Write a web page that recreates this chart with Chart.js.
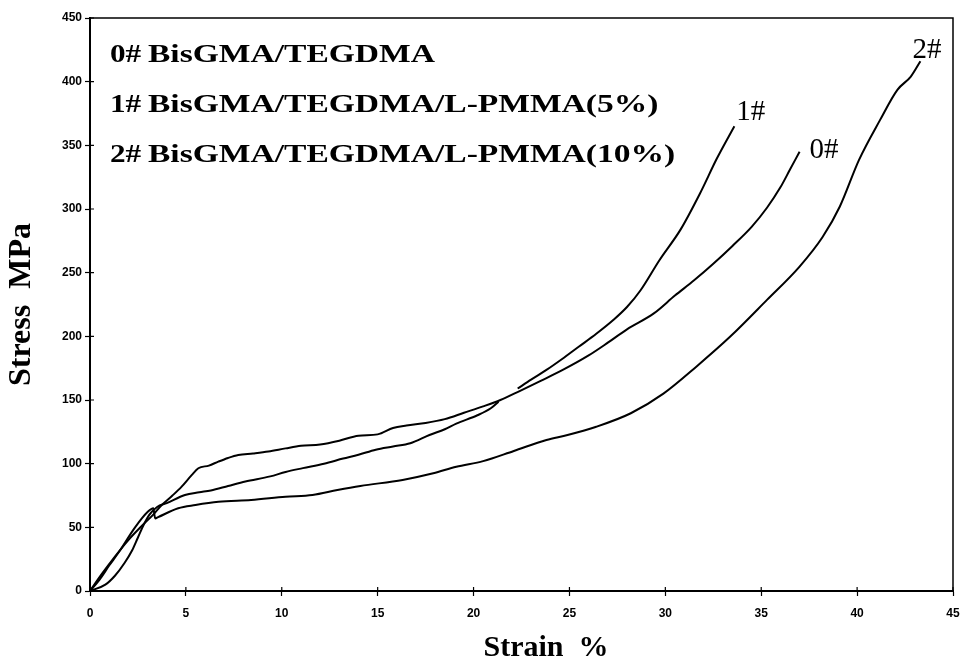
<!DOCTYPE html>
<html lang="en">
<head>
<meta charset="UTF-8">
<title>Stress - Strain</title>
<script src="https://cdn.jsdelivr.net/npm/chart.js"></script>
<style>
    html, body { margin: 0; padding: 0; background: #fff; }
    /* fixed size canvas box */
    .chart-container { position: relative; width: 966px; height: 664px; }
</style>
</head>
<body>
<div class="chart-container"><canvas id="stressChart" width="966" height="664"></canvas></div>
<script>
// 0# BisGMA/TEGDMA
const strain0 = [0, 0.6, 1.3, 2.0, 2.76, 3.3, 3.74, 4.3, 4.78, 5.3, 5.65, 6.2, 6.69, 7.2, 7.73, 8.5, 9.3, 10.2, 11.0, 12.0, 13.0, 14.0, 15.0, 15.8, 16.5, 17.5, 18.5, 19.5, 20.5, 21.4, 22.4, 23.5, 24.7, 26.0, 27.0, 28.0, 29.4, 30.5, 31.5, 32.5, 33.5, 34.5, 35.3, 36.0, 36.5, 37.0];
const stress0 = [0, 13, 27, 40, 52, 60, 67.5, 75, 82, 91, 96.4, 98.5, 101.6, 104.5, 106.8, 108, 109.5, 112, 114, 115, 118, 122, 123, 128, 130, 132, 135, 140, 145, 150, 157, 165, 174, 185, 195, 205.5, 218, 232, 244, 257, 271, 286, 301, 317, 331, 345];

// 1# BisGMA/TEGDMA/L-PMMA(5%)  (trace breaks near 22%)
const strain1 = [0, 0.8, 1.3, 1.8, 2.2, 2.5, 2.8, 3.1, 3.5, 4.0, 4.95, 5.7, 6.3, 7.2, 8.1, 9.4, 10.2, 11.1, 12.2, 13.2, 14.0, 14.9, 15.8, 16.7, 17.7, 18.5, 19.1, 20.2, 20.9, 21.3, 21.8, 22.3, 23.0, 23.8, 24.6, 25.5, 26.4, 27.3, 28.0, 28.7, 29.7, 30.8, 31.8, 32.7, 33.6];
const stress1 = [0, 5, 12, 22, 32, 42, 52, 60, 66, 69, 75.4, 77.5, 79, 82.5, 86, 90, 93.5, 96.5, 100, 104, 107, 111, 113.5, 116, 122.5, 127, 131.5, 138, 143.5, 148.7, null, 159, 166, 173.6, 182, 192, 202, 213, 223, 236, 260, 284, 312, 340, 365];

// 2# BisGMA/TEGDMA/L-PMMA(10%)
const strain2 = [0, 0.5, 1.0, 1.48, 2.35, 3.0, 3.3, 3.4, 3.55, 4.6, 5.5, 6.7, 8.4, 10.2, 11.6, 12.9, 14.1, 16.3, 17.9, 19.1, 20.5, 22.1, 23.8, 24.9, 26.4, 28.2, 29.9, 31.6, 33.4, 35.3, 37.0, 38.2, 39.1, 40.1, 41.2, 42.1, 42.8, 43.3];
const stress2 = [0, 9, 20, 30, 50, 62, 65, 57, 58, 65, 67.5, 70, 71.5, 74, 75.4, 79.3, 82.5, 87.2, 92.4, 97.6, 102, 110, 118.6, 122.5, 129, 139.6, 155, 176, 200, 228.6, 254.8, 278, 302, 338.6, 370, 393.6, 404, 416];

const seriesIds = ['0#', '1#', '2#'];
const seriesNames = ['BisGMA/TEGDMA', 'BisGMA/TEGDMA/L-PMMA(5%)', 'BisGMA/TEGDMA/L-PMMA(10%)'];
const xTitle = 'Strain  %';
const yTitle = 'Stress  MPa';

const serif = '"Liberation Serif", "Times New Roman", serif';
const tickFont = { family: '"Liberation Sans Narrow", "Liberation Sans", Arial, sans-serif', size: 12, weight: 'bold' };

function points(xs, ys) {
    return xs.map((v, i) => ({ x: v, y: ys[i] }));
}

// where each end label sits relative to the last point of its curve
const labelOffsets = [[10, 6], [2, -6], [-8, -3]];

const paperPlugin = {
    id: 'paper',
    afterDraw(chart) {
        const { ctx, chartArea: a, scales: { x, y } } = chart;
        ctx.save();
        ctx.strokeStyle = '#000';
        // top and right frame
        ctx.lineWidth = 1.5;
        ctx.beginPath();
        ctx.moveTo(a.left, a.top);
        ctx.lineTo(a.right, a.top);
        ctx.lineTo(a.right, a.bottom);
        ctx.stroke();
        // inner halves of the tick marks
        ctx.lineWidth = 1.2;
        ctx.beginPath();
        y.ticks.forEach(t => {
            const py = y.getPixelForValue(t.value);
            ctx.moveTo(a.left, py); ctx.lineTo(a.left + 4, py);
        });
        x.ticks.forEach(t => {
            const px = x.getPixelForValue(t.value);
            ctx.moveTo(px, a.bottom); ctx.lineTo(px, a.bottom - 4);
        });
        ctx.stroke();

        ctx.fillStyle = '#000';
        ctx.textBaseline = 'alphabetic';
        ctx.textAlign = 'left';
        // legend block in the upper left
        ctx.font = 'bold 26px ' + serif;
        seriesIds.forEach((id, i) => {
            const by = a.top + 44 + i * 50;
            ctx.save(); ctx.translate(a.left + 20, by); ctx.scale(1.2, 1); ctx.fillText(id, 0, 0); ctx.restore();
            ctx.save(); ctx.translate(a.left + 58, by); ctx.scale(1.29, 1); ctx.fillText(seriesNames[i], 0, 0); ctx.restore();
        });
        // labels at curve ends
        ctx.font = '29px ' + serif;
        chart.data.datasets.forEach((ds, i) => {
            const last = ds.data[ds.data.length - 1];
            const px = x.getPixelForValue(last.x) + labelOffsets[i][0];
            const py = y.getPixelForValue(last.y) + labelOffsets[i][1];
            ctx.fillText(seriesIds[i], px, py);
        });
        // x axis title
        ctx.font = 'bold 30px ' + serif;
        ctx.textAlign = 'center';
        ctx.textBaseline = 'middle';
        ctx.fillText(xTitle, 546, 648);
        ctx.restore();
    }
};

const lineStyle = {
    borderColor: '#000',
    borderWidth: 2,
    pointRadius: 0,
    fill: false,
    cubicInterpolationMode: 'monotone',
    spanGaps: false
};

new Chart(document.getElementById('stressChart'), {
    type: 'line',
    data: {
        datasets: [
            { label: seriesIds[0], data: points(strain0, stress0), ...lineStyle },
            { label: seriesIds[1], data: points(strain1, stress1), ...lineStyle },
            { label: seriesIds[2], data: points(strain2, stress2), ...lineStyle }
        ]
    },
    options: {
        responsive: false,
        animation: false,
        devicePixelRatio: 1,
        layout: { padding: { left: 0, top: 18, right: 13, bottom: 0 } },
        plugins: { legend: { display: false }, tooltip: { enabled: false } },
        scales: {
            x: {
                type: 'linear',
                min: 0, max: 45,
                ticks: { stepSize: 5, color: '#000', font: tickFont, padding: 10, maxRotation: 0 },
                grid: { drawOnChartArea: false, tickLength: 5, tickColor: '#000', tickWidth: 1.2 },
                border: { display: true, color: '#000', width: 2 },
                afterFit(scale) { scale.height = 73; scale.paddingRight = 0; scale.paddingLeft = 0; }
            },
            y: {
                min: 0, max: 450,
                ticks: { stepSize: 50, color: '#000', font: tickFont, padding: 3 },
                grid: { drawOnChartArea: false, tickLength: 5, tickColor: '#000', tickWidth: 1.2 },
                border: { display: true, color: '#000', width: 2 },
                title: {
                    display: true, text: yTitle, color: '#000',
                    font: { family: serif, size: 32, weight: 'bold', lineHeight: 1 },
                    padding: { top: 6, bottom: 0 }
                },
                afterFit(scale) { scale.width = 90; scale.paddingTop = 0; scale.paddingBottom = 0; }
            }
        }
    },
    plugins: [paperPlugin]
});
</script>
</body>
</html>
